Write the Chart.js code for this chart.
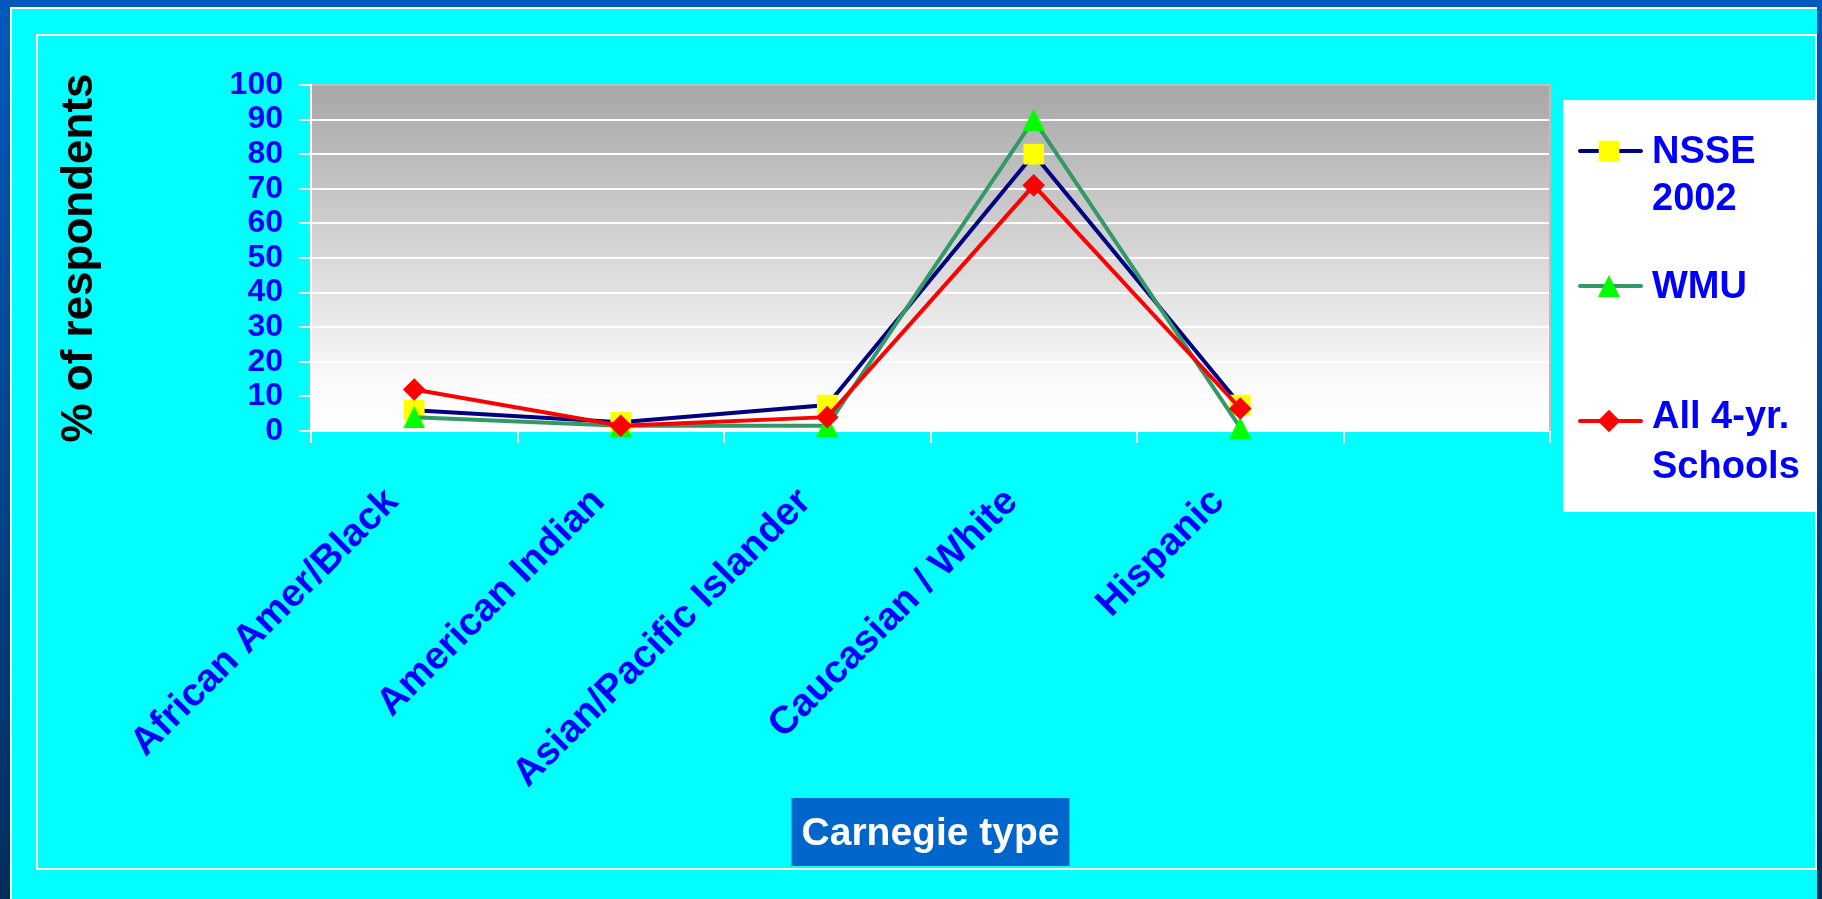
<!DOCTYPE html>
<html>
<head>
<meta charset="utf-8">
<title>% of respondents by race / ethnicity</title>
<script src="https://cdn.jsdelivr.net/npm/chart.js@4/dist/chart.umd.min.js"></script>
<style>
  html, body { margin: 0; padding: 0; }
  body {
    width: 1822px; height: 899px; overflow: hidden; position: relative;
    background: linear-gradient(180deg, #005abc 0%, #00468f 50%, #002e5c 100%);
  }
  #panel {
    position: absolute; left: 10px; top: 7px; width: 1807px; height: 892px;
    background: #00ffff; box-sizing: border-box;
    border-left: 2px solid #ffffff; border-top: 2px solid #ffffff;
  }
  #frame {
    position: absolute; left: 36px; top: 34px; width: 1781px; height: 836px;
    box-sizing: border-box; border: 2px solid #ffffff;
  }
  #wrap { position: absolute; left: 0; top: 0; width: 1822px; height: 899px; }
</style>
</head>
<body>
<div id="panel"></div>
<div id="frame"></div>
<div id="wrap"><canvas id="chart"></canvas></div>
<script>
// Categories (the last slot is left empty on purpose)
const categories = ['African Amer/Black', 'American Indian', 'Asian/Pacific Islander', 'Caucasian / White', 'Hispanic', ''];

// Percent of respondents per group
const nsse2002 = [6, 2.5, 7.5, 80, 7.5];
const wmu      = [4, 1.5, 1.5, 90, 1];
const all4yr   = [12, 1.5, 4, 71, 6.5];

// Legend labels (multi-line)
const seriesLabels = [['NSSE', '2002'], ['WMU'], ['All 4-yr.', 'Schools']];

// Axis settings
const yMin = 0, yMax = 100, yStep = 10;
const yTitle = '% of respondents';
const xTitle = 'Carnegie type';

const FONT = "'Liberation Sans', Arial, Helvetica, sans-serif";
Chart.defaults.font.family = FONT;

// Upright triangle marker, centred on the point
function triangleMarker(size, color) {
  const c = document.createElement('canvas');
  c.width = size; c.height = size;
  const g = c.getContext('2d');
  g.fillStyle = color;
  g.beginPath();
  g.moveTo(size / 2, 0);
  g.lineTo(size, size);
  g.lineTo(0, size);
  g.closePath();
  g.fill();
  return c;
}
const triangle = triangleMarker(22, '#00ff00');

// Legend text layout: first-line baseline offset from the box top, and line step
const legendRows = [
  { base: 63, step: 47 },
  { base: 198, step: 47 },
  { base: 328, step: 50 }
];
const legendMarkerY = [51, 186, 321];

// Plot background, plot frame, axis-title box and legend
const decor = {
  id: 'decor',
  beforeDraw(chart) {
    const { ctx, chartArea: a } = chart;
    const g = ctx.createLinearGradient(0, a.top, 0, a.bottom);
    g.addColorStop(0, '#a7a7a7');
    g.addColorStop(0.85, '#fafafa');
    g.addColorStop(1, '#ffffff');
    ctx.save();
    ctx.fillStyle = g;
    ctx.fillRect(a.left, a.top, a.right - a.left, a.bottom - a.top);
    ctx.restore();
  },
  beforeDatasetsDraw(chart) {
    const { ctx, chartArea: a } = chart;
    ctx.save();
    ctx.strokeStyle = '#bdbdbd';
    ctx.lineWidth = 2;
    ctx.beginPath();
    ctx.moveTo(a.left + 1, a.top);
    ctx.lineTo(a.right, a.top);
    ctx.lineTo(a.right, a.bottom);
    ctx.stroke();
    ctx.restore();
  },
  afterDraw(chart) {
    const { ctx, chartArea: a } = chart;
    ctx.save();

    // x-axis title on a blue box
    ctx.font = 'bold 39px ' + FONT;
    const tw = ctx.measureText(xTitle).width;
    const cx = (a.left + a.right) / 2;
    const boxTop = a.bottom + 367, boxH = 68;
    ctx.fillStyle = '#0066cc';
    ctx.fillRect(cx - tw / 2 - 10, boxTop, tw + 20, boxH);
    ctx.fillStyle = '#ffffff';
    ctx.textAlign = 'center';
    ctx.textBaseline = 'alphabetic';
    ctx.fillText(xTitle, cx, boxTop + 47);

    // legend
    const lx = a.right + 13, ly = a.top + 15, lw = 253, lh = 412;
    ctx.fillStyle = '#ffffff';
    ctx.fillRect(lx, ly, lw, lh);
    ctx.font = 'bold 38px ' + FONT;
    ctx.textAlign = 'left';
    chart.data.datasets.forEach((ds, i) => {
      const my = ly + legendMarkerY[i];
      ctx.strokeStyle = ds.borderColor;
      ctx.lineWidth = ds.borderWidth;
      ctx.lineCap = 'round';
      ctx.beginPath();
      ctx.moveTo(lx + 17, my);
      ctx.lineTo(lx + 78, my);
      ctx.stroke();
      ctx.fillStyle = ds.pointBackgroundColor;
      Chart.helpers.drawPoint(ctx, {
        pointStyle: ds.pointStyle, radius: ds.pointRadius, rotation: 0, borderWidth: 0
      }, lx + 46, my);
      ctx.fillStyle = '#0000ff';
      const row = legendRows[i];
      seriesLabels[i].forEach((t, k) => ctx.fillText(t, lx + 89, ly + row.base + k * row.step));
    });
    ctx.restore();
  }
};

const ctx = document.getElementById('chart').getContext('2d');
new Chart(ctx, {
  type: 'line',
  data: {
    labels: categories,
    datasets: [
      {
        label: seriesLabels[0].join(' '), data: nsse2002, order: 3,
        borderColor: '#000080', borderWidth: 4,
        pointStyle: 'rect', pointRadius: 14.6,
        pointBackgroundColor: '#ffff00', pointBorderWidth: 0, pointBorderColor: '#ffff00',
        clip: false
      },
      {
        label: seriesLabels[1].join(' '), data: wmu, order: 2,
        borderColor: '#339966', borderWidth: 4,
        pointStyle: triangle, pointRadius: 11,
        pointBackgroundColor: '#00ff00', pointBorderWidth: 0, pointBorderColor: '#00ff00',
        clip: false
      },
      {
        label: seriesLabels[2].join(' '), data: all4yr, order: 1,
        borderColor: '#ff0000', borderWidth: 4,
        pointStyle: 'rectRot', pointRadius: 11.3,
        pointBackgroundColor: '#ff0000', pointBorderWidth: 0, pointBorderColor: '#ff0000',
        clip: false
      }
    ]
  },
  options: {
    responsive: true,
    maintainAspectRatio: false,
    animation: false,
    events: [],
    layout: { padding: { top: 85, right: 272, bottom: 0, left: 0 } },
    plugins: { legend: { display: false }, tooltip: { enabled: false }, title: { display: false } },
    scales: {
      x: {
        type: 'category',
        offset: true,
        afterFit(scale) { scale.height = 468; },
        grid: {
          display: true, drawOnChartArea: false, drawTicks: true, offset: true,
          tickLength: 12, tickColor: '#ffffff', lineWidth: 2, color: '#ffffff'
        },
        border: { display: true, color: '#ffffff', width: 2 },
        ticks: {
          autoSkip: false, minRotation: 45, maxRotation: 45,
          color: '#0000ff', font: { size: 39, weight: 'bold' },
          padding: 36, labelOffset: -22
        }
      },
      y: {
        min: yMin, max: yMax,
        afterFit(scale) { scale.width = 311; },
        grid: { color: '#ffffff', lineWidth: 2, tickLength: 12, tickColor: '#ffffff' },
        border: { display: true, color: '#ffffff', width: 2 },
        ticks: {
          stepSize: yStep, autoSkip: false, color: '#0000ff', padding: 16,
          font: { size: 32, weight: 'bold' }
        },
        title: {
          display: true, text: yTitle, color: '#000000',
          font: { size: 44, weight: 'bold' },
          padding: { top: 53, bottom: 0 }
        }
      }
    }
  },
  plugins: [decor]
});
</script>
</body>
</html>
